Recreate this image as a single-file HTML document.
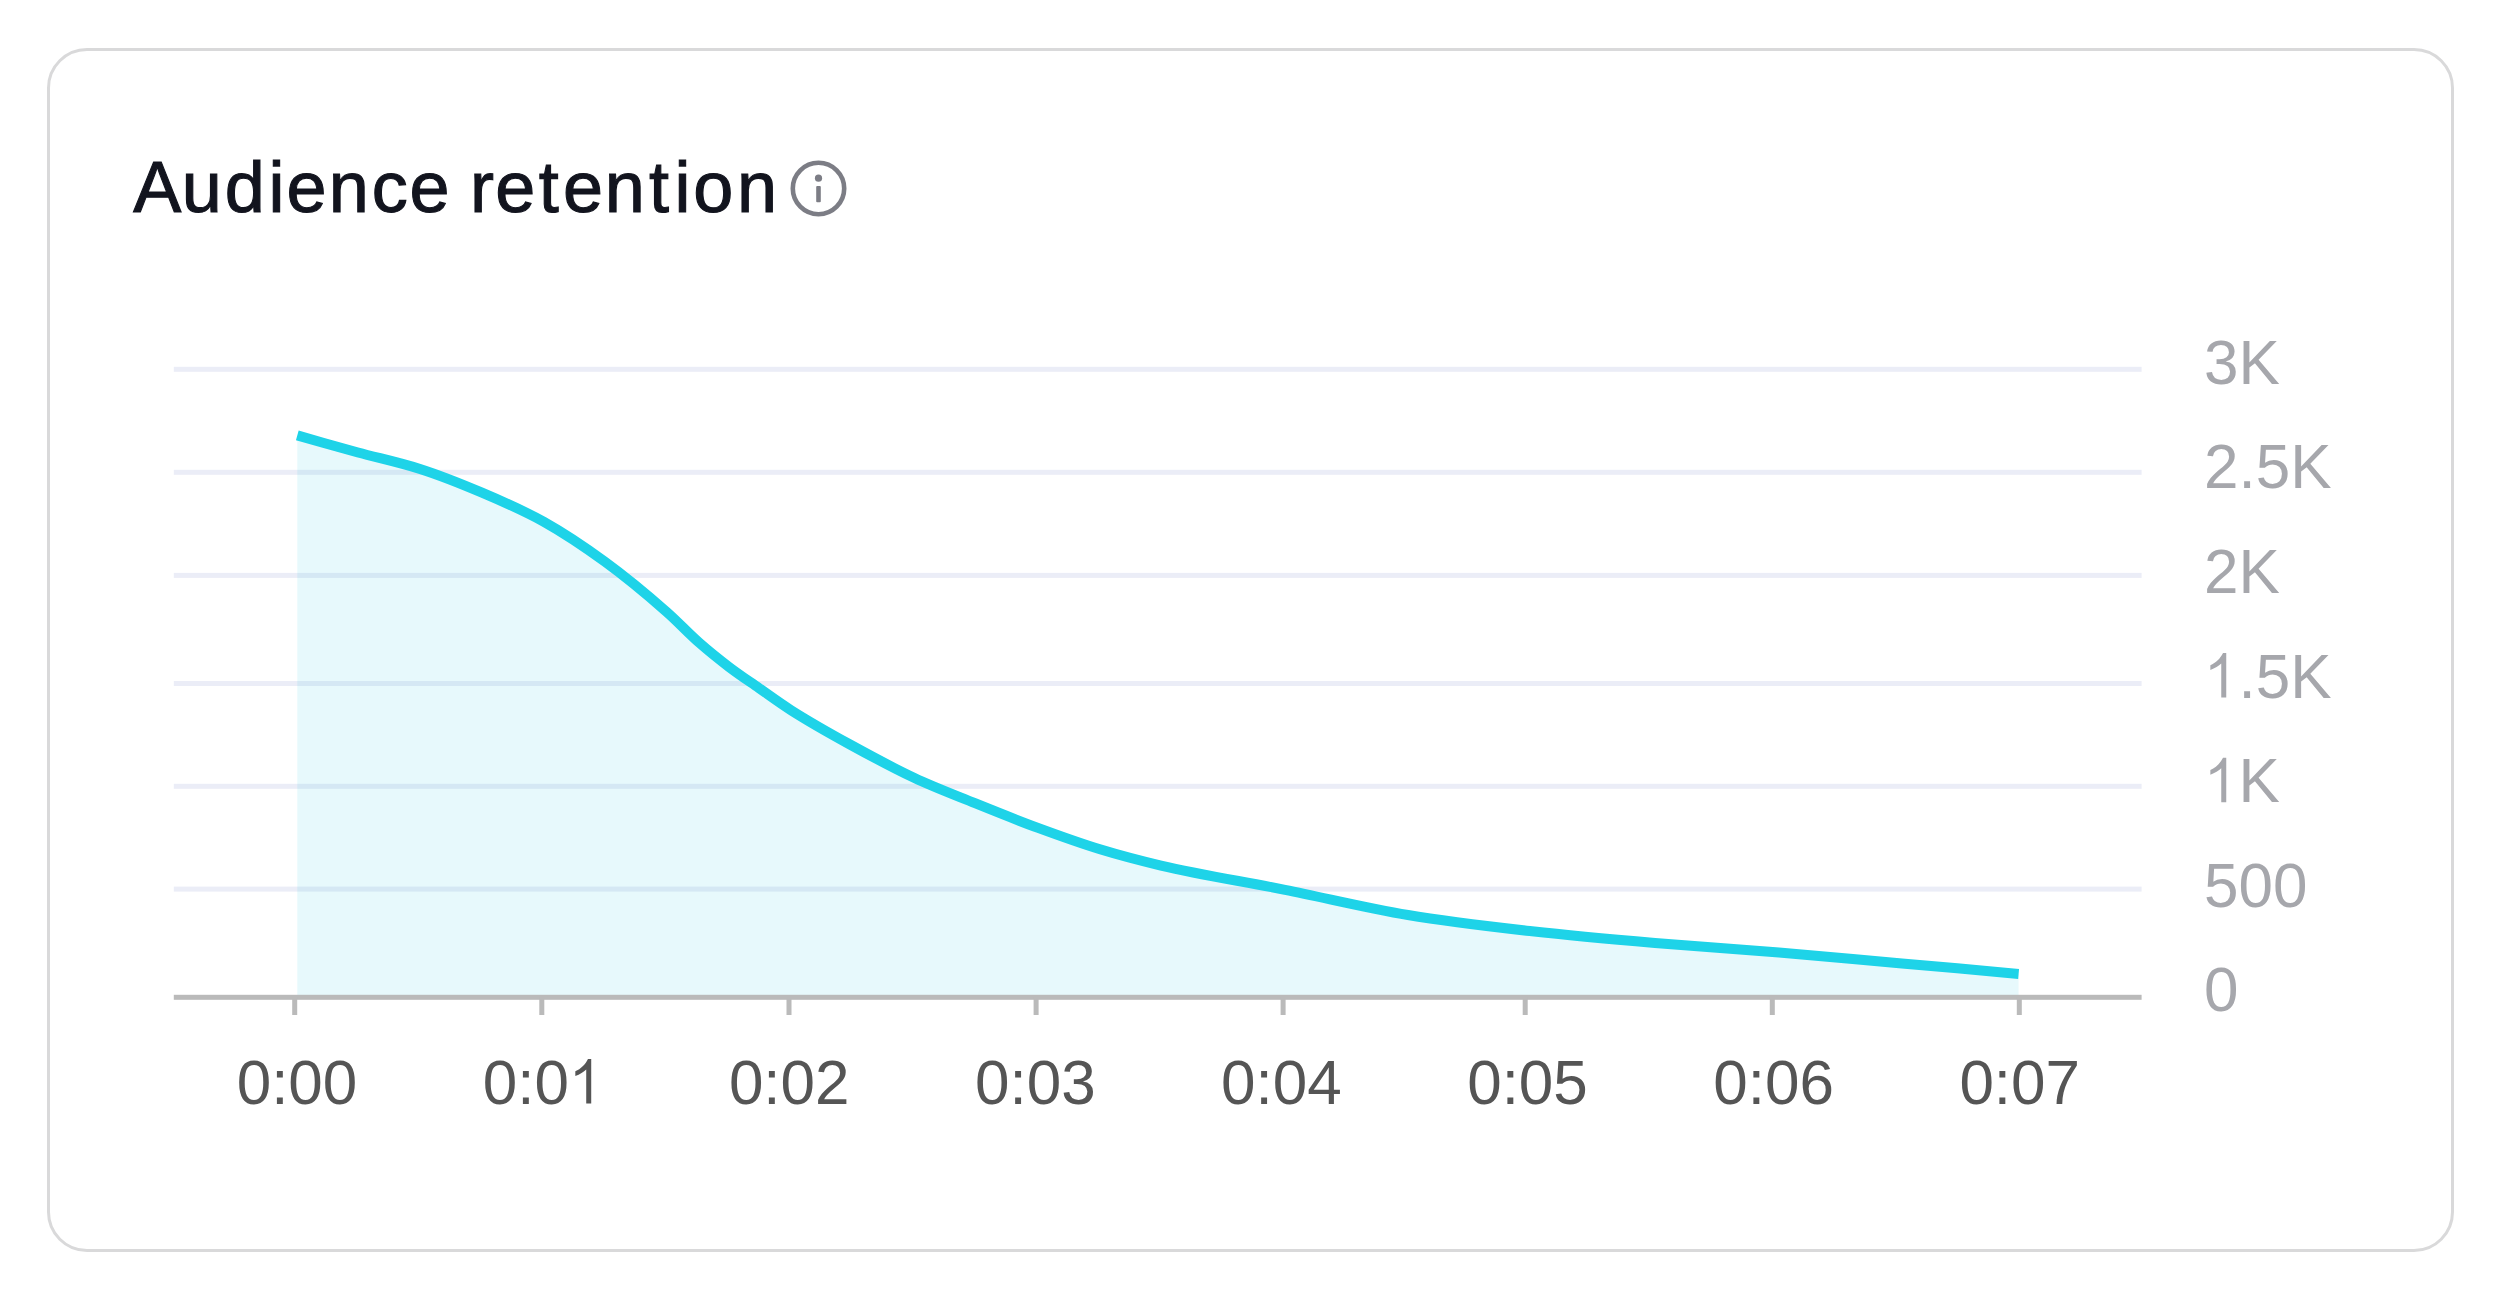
<!DOCTYPE html>
<html><head><meta charset="utf-8"><style>
html,body{margin:0;padding:0;background:#fff;width:2500px;height:1300px;overflow:hidden}
.card{position:absolute;left:47px;top:48px;width:2401px;height:1198px;border:3px solid #d9d9da;border-radius:40px;box-sizing:content-box}
svg{position:absolute;left:0;top:0}
.xl{font-family:"Liberation Sans",sans-serif;font-size:62px;fill:#555555}
.yl{font-family:"Liberation Sans",sans-serif;font-size:62px;fill:#a6a7ac}
.tt{font-family:"Liberation Sans",sans-serif;font-size:72px;fill:#12141e;stroke:#12141e;stroke-width:1.1px}
</style></head><body>
<div class="card"></div>
<svg width="2500" height="1300" viewBox="0 0 2500 1300">
<circle cx="818.5" cy="188.5" r="25.7" fill="none" stroke="#7c7d85" stroke-width="4.6"/>
<circle cx="818.5" cy="178.2" r="3.6" fill="#7c7d85"/>
<rect x="816.2" y="186" width="4.6" height="16.3" rx="1" fill="#7c7d85"/>
<rect x="173.8" y="366.8" width="1967.8" height="5" fill="#ebedf7"/>
<rect x="173.8" y="469.8" width="1967.8" height="5" fill="#ebedf7"/>
<rect x="173.8" y="572.9" width="1967.8" height="5" fill="#ebedf7"/>
<rect x="173.8" y="681.0" width="1967.8" height="5" fill="#ebedf7"/>
<rect x="173.8" y="783.8" width="1967.8" height="5" fill="#ebedf7"/>
<rect x="173.8" y="886.6" width="1967.8" height="5" fill="#ebedf7"/>
<path d="M297.3,435.4 C317.5,441.1 337.8,447.0 358.0,452.5 C378.7,458.1 399.3,462.4 420.0,469.0 C440.7,475.6 461.3,483.9 482.0,492.7 C502.7,501.5 523.3,510.3 544.0,521.9 C564.3,533.3 584.7,547.0 605.0,561.8 C625.7,576.9 646.3,594.0 667.0,612.2 C677.7,621.6 688.3,633.1 699.0,642.5 C709.0,651.3 719.0,659.3 729.0,666.9 C739.0,674.5 749.0,681.1 759.0,688.1 C769.7,695.6 780.3,703.4 791.0,710.2 C810.7,722.7 830.3,733.7 850.0,744.5 C871.3,756.2 892.7,767.8 914.0,777.8 C934.3,787.4 954.7,795.0 975.0,803.2 C996.0,811.7 1017.0,820.2 1038.0,827.9 C1058.7,835.5 1079.3,843.0 1100.0,849.3 C1120.3,855.5 1140.7,860.8 1161.0,865.6 C1202.3,875.3 1243.7,881.5 1285.0,889.8 C1326.0,898.0 1367.0,908.0 1408.0,915.0 C1449.3,922.0 1490.7,926.6 1532.0,931.3 C1573.0,935.9 1614.0,939.5 1655.0,943.0 C1696.3,946.5 1737.7,949.0 1779.0,952.5 C1820.0,956.0 1861.0,959.8 1902.0,963.4 C1940.9,966.8 1979.7,970.4 2018.6,973.9 L2018.6,995 L297.3,995 Z" fill="rgba(15,195,225,0.1)"/>
<rect x="173.8" y="994.8" width="1967.8" height="5" fill="#bababa"/>
<rect x="292.2" y="997" width="5" height="18" fill="#bababa"/>
<rect x="539.3" y="997" width="5" height="18" fill="#bababa"/>
<rect x="786.5" y="997" width="5" height="18" fill="#bababa"/>
<rect x="1033.6" y="997" width="5" height="18" fill="#bababa"/>
<rect x="1280.6" y="997" width="5" height="18" fill="#bababa"/>
<rect x="1522.7" y="997" width="5" height="18" fill="#bababa"/>
<rect x="1769.8" y="997" width="5" height="18" fill="#bababa"/>
<rect x="2016.8" y="997" width="5" height="18" fill="#bababa"/>
<path d="M297.3,435.4 C317.5,441.1 337.8,447.0 358.0,452.5 C378.7,458.1 399.3,462.4 420.0,469.0 C440.7,475.6 461.3,483.9 482.0,492.7 C502.7,501.5 523.3,510.3 544.0,521.9 C564.3,533.3 584.7,547.0 605.0,561.8 C625.7,576.9 646.3,594.0 667.0,612.2 C677.7,621.6 688.3,633.1 699.0,642.5 C709.0,651.3 719.0,659.3 729.0,666.9 C739.0,674.5 749.0,681.1 759.0,688.1 C769.7,695.6 780.3,703.4 791.0,710.2 C810.7,722.7 830.3,733.7 850.0,744.5 C871.3,756.2 892.7,767.8 914.0,777.8 C934.3,787.4 954.7,795.0 975.0,803.2 C996.0,811.7 1017.0,820.2 1038.0,827.9 C1058.7,835.5 1079.3,843.0 1100.0,849.3 C1120.3,855.5 1140.7,860.8 1161.0,865.6 C1202.3,875.3 1243.7,881.5 1285.0,889.8 C1326.0,898.0 1367.0,908.0 1408.0,915.0 C1449.3,922.0 1490.7,926.6 1532.0,931.3 C1573.0,935.9 1614.0,939.5 1655.0,943.0 C1696.3,946.5 1737.7,949.0 1779.0,952.5 C1820.0,956.0 1861.0,959.8 1902.0,963.4 C1940.9,966.8 1979.7,970.4 2018.6,973.9" fill="none" stroke="#1ed3e8" stroke-width="10" stroke-linejoin="round"/>
<text transform="translate(297.0,1103.6) scale(1,1.03)" text-anchor="middle" class="xl">0:00</text>
<g transform="translate(482.77,1103.6) scale(1,1.03)"><text x="0" y="0" class="xl">0:0</text><path transform="translate(86.2,0) scale(0.03027,-0.03027)" d="M735,0 L570,0 L570,1092 C490,1017 360,936 210,883 L210,1039 C390,1112 540,1258 628,1432 L735,1432 Z" fill="#555555"/></g>
<text transform="translate(789.2,1103.6) scale(1,1.03)" text-anchor="middle" class="xl">0:02</text>
<text transform="translate(1035.3,1103.6) scale(1,1.03)" text-anchor="middle" class="xl">0:03</text>
<text transform="translate(1281.4,1103.6) scale(1,1.03)" text-anchor="middle" class="xl">0:04</text>
<text transform="translate(1527.5,1103.6) scale(1,1.03)" text-anchor="middle" class="xl">0:05</text>
<text transform="translate(1773.6,1103.6) scale(1,1.03)" text-anchor="middle" class="xl">0:06</text>
<text transform="translate(2019.7,1103.6) scale(1,1.03)" text-anchor="middle" class="xl">0:07</text>
<text transform="translate(2204,383.6) scale(1,1.025)" class="yl">3K</text>
<text transform="translate(2204,488.2) scale(1,1.025)" class="yl">2.5K</text>
<text transform="translate(2204,592.9) scale(1,1.025)" class="yl">2K</text>
<g transform="translate(2204,697.5) scale(1,1.025)"><path transform="scale(0.03027,-0.03027)" d="M735,0 L570,0 L570,1092 C490,1017 360,936 210,883 L210,1039 C390,1112 540,1258 628,1432 L735,1432 Z" fill="#a6a7ac"/><text x="34.48" y="0" class="yl">.5K</text></g>
<g transform="translate(2204,802.2) scale(1,1.025)"><path transform="scale(0.03027,-0.03027)" d="M735,0 L570,0 L570,1092 C490,1017 360,936 210,883 L210,1039 C390,1112 540,1258 628,1432 L735,1432 Z" fill="#a6a7ac"/><text x="34.48" y="0" class="yl">K</text></g>
<text transform="translate(2204,906.8) scale(1,1.025)" class="yl">500</text>
<text transform="translate(2204,1011.4) scale(1,1.025)" class="yl">0</text>
<text x="133.2 181.8 224.8 268.6 286.5 328.8 371.7 409.5 470.1 495.3 538.7 563.1 604.8 648.9 674.4 693.3 736.9" y="212.2" class="tt">Audienceretention</text>
</svg>
</body></html>
